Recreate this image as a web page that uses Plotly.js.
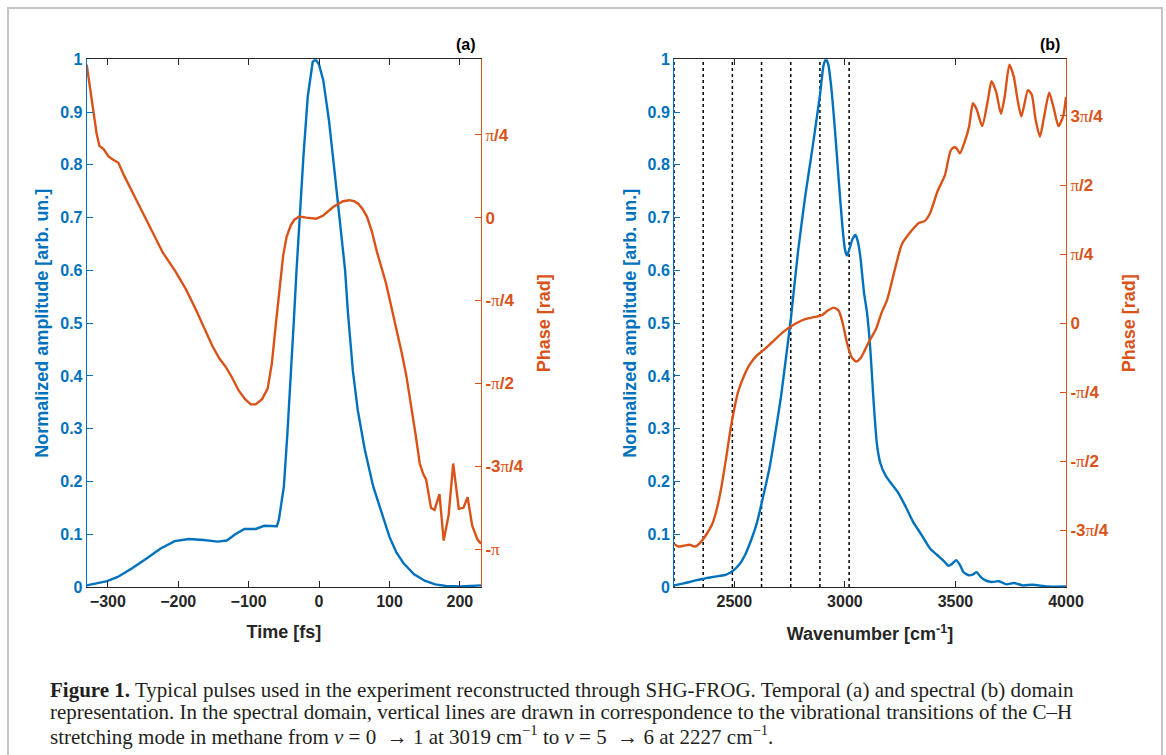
<!DOCTYPE html>
<html>
<head>
<meta charset="utf-8">
<script src="https://cdn.plot.ly/plotly-3.0.1.min.js"></script>
<style>
  html, body { margin: 0; padding: 0; background: #fff; }
  #chart { width: 1166px; height: 755px; }
</style>
</head>
<body>
<div id="chart"></div>
<script>
// ---------------- DATA ----------------
// Panel (a): temporal domain
const timeAmp_t = [-330,-317,-301,-286,-266,-245,-225,-205,-185,-164,-144,-131,-119,-106,-90,-78,-65,-60,-57,-50,-45,-40,-36,-32,-28,-22,-16,-9,-5,0,6,14,21,29,37,41,48,55,65,77,90,100,110,120,135,150,165,180,200,215,230];
const timeAmp   = [0.003,0.006,0.011,0.019,0.035,0.054,0.073,0.087,0.091,0.089,0.086,0.088,0.100,0.110,0.110,0.116,0.116,0.115,0.128,0.19,0.29,0.42,0.50,0.60,0.69,0.82,0.93,0.995,1.0,0.99,0.96,0.885,0.80,0.70,0.60,0.52,0.41,0.335,0.26,0.19,0.135,0.095,0.065,0.045,0.024,0.012,0.005,0.002,0.001,0.002,0.003];

const timePhase_t = [-330,-325,-320,-316,-312,-306,-299,-293,-285,-277,-265,-255,-239,-222,-204,-189,-175,-164,-152,-142,-133,-124,-114,-105,-97,-90,-81,-73,-67,-62,-57,-55,-51,-46,-40,-35,-28,-18,-4,6,20,34,43,50,56,62,68,75,82,95,105,112,118,124,131,137,143,148,152,156,159,164,171,177,184,190.5,198.5,205,211,217.5,225,230];
const timePhase   = [1.45,1.20,0.98,0.80,0.68,0.65,0.58,0.55,0.52,0.40,0.24,0.11,-0.11,-0.33,-0.51,-0.68,-0.87,-1.03,-1.21,-1.33,-1.41,-1.51,-1.64,-1.72,-1.77,-1.77,-1.72,-1.62,-1.38,-1.05,-0.72,-0.60,-0.36,-0.18,-0.07,-0.02,0.01,0.00,-0.01,0.02,0.10,0.155,0.165,0.155,0.13,0.08,0.01,-0.13,-0.32,-0.62,-0.92,-1.10,-1.30,-1.50,-1.78,-2.05,-2.33,-2.43,-2.48,-2.62,-2.75,-2.77,-2.62,-3.06,-2.82,-2.33,-2.76,-2.75,-2.65,-2.92,-3.05,-3.09];

// Panel (b): spectral domain
const specAmp_w = [2227,2260,2298,2330,2365,2400,2433,2460,2480,2500,2525,2551,2576,2601,2630,2660,2685,2711,2736,2756,2787,2820,2854,2888,2904,2915,2925,2938,2955,2972,2989,3000,3009,3020,3035,3048,3060,3070,3087,3100,3115,3130,3145,3160,3183,3208,3242,3275,3309,3343,3385,3427,3450,3469,3485,3503,3520,3537,3562,3580,3596,3612,3629,3663,3697,3731,3764,3806,3848,3916,4000];
const specAmp   = [0.003,0.006,0.0095,0.013,0.016,0.019,0.021,0.023,0.027,0.033,0.044,0.063,0.089,0.12,0.171,0.228,0.291,0.361,0.443,0.51,0.632,0.739,0.834,0.935,0.99,1.0,0.99,0.948,0.866,0.771,0.682,0.64,0.628,0.64,0.66,0.667,0.652,0.625,0.556,0.52,0.45,0.35,0.27,0.235,0.212,0.197,0.178,0.152,0.123,0.101,0.073,0.057,0.048,0.040,0.044,0.051,0.042,0.028,0.022,0.024,0.028,0.020,0.014,0.0095,0.011,0.005,0.0076,0.003,0.0044,0.001,0.001];

const specPhase_w = [2227,2247,2272,2298,2323,2348,2374,2399,2419,2441,2463,2483,2500,2517,2542,2567,2601,2630,2669,2719,2761,2820,2871,2896,2921,2950,2972,2989,3009,3031,3051,3073,3107,3140,3166,3191,3225,3258,3301,3334,3360,3385,3419,3452,3478,3494,3505,3520,3540,3562,3579,3596,3621,3647,3663,3684,3706,3723,3744,3764,3781,3798,3828,3845,3862,3882,3899,3924,3946,3966,3987,4000];
const specPhase   = [-2.51,-2.54,-2.53,-2.52,-2.54,-2.49,-2.40,-2.29,-2.13,-1.87,-1.53,-1.20,-0.97,-0.78,-0.61,-0.48,-0.37,-0.31,-0.22,-0.105,-0.03,0.045,0.075,0.09,0.14,0.177,0.14,0.01,-0.22,-0.39,-0.436,-0.39,-0.22,-0.07,0.12,0.265,0.60,0.90,1.05,1.14,1.16,1.25,1.50,1.68,1.96,2.00,1.99,1.93,2.05,2.24,2.50,2.43,2.24,2.54,2.75,2.63,2.38,2.58,2.94,2.80,2.54,2.35,2.65,2.60,2.32,2.12,2.32,2.62,2.43,2.24,2.35,2.57];

// C–H stretching transitions (cm^-1), from nu=0->1 down
const transitions = [3019, 2887, 2755, 2623, 2491, 2359, 2227];

// Tick labels
const ampTicks = [0,0.1,0.2,0.3,0.4,0.5,0.6,0.7,0.8,0.9,1];
const ampTickText = ['0','0.1','0.2','0.3','0.4','0.5','0.6','0.7','0.8','0.9','1'];
const PI_SPAN = '<span style="font-family:\'Liberation Serif\',serif;font-weight:normal">π</span>';
const phaseTickMulA = [-1,-0.75,-0.5,-0.25,0,0.25];
const phaseTickTextA = ['-'+PI_SPAN,'-3'+PI_SPAN+'/4','-'+PI_SPAN+'/2','-'+PI_SPAN+'/4','0',PI_SPAN+'/4'];
const phaseTickMulB = [-0.75,-0.5,-0.25,0,0.25,0.5,0.75];
const phaseTickTextB = ['-3'+PI_SPAN+'/4','-'+PI_SPAN+'/2','-'+PI_SPAN+'/4','0',PI_SPAN+'/4',PI_SPAN+'/2','3'+PI_SPAN+'/4'];
const timeTicks = [-300,-200,-100,0,100,200];
const waveTicks = [2500,3000,3500,4000];

const captionLines = [
  '<b>Figure 1.</b> Typical pulses used in the experiment reconstructed through SHG-FROG. Temporal (a) and spectral (b) domain',
  'representation. In the spectral domain, vertical lines are drawn in correspondence to the vibrational transitions of the C–H',
  'stretching mode in methane from <i>ν</i> = 0  → 1 at 3019 cm<sup>−1</sup> to <i>ν</i> = 5  → 6 at 2227 cm<sup>−1</sup>.'
];

// ---------------- STYLE ----------------
const BLUE = '#0072BD', ORANGE = '#D95319', AX = '#262626';
const W = 1166, H = 755;
const FONT = 'Liberation Sans, Arial, sans-serif';
const px = v => v / W;
const py = v => (H - v) / H;
const yDom = [py(587), py(59.3)];

const vx = [], vy = [];
transitions.forEach(w => { vx.push(w, w, null); vy.push(0, 1, null); });

const traces = [
  {x: timeAmp_t, y: timeAmp, xaxis: 'x', yaxis: 'y', mode: 'lines', line: {color: BLUE, width: 2.4}, hoverinfo: 'skip'},
  {x: timePhase_t, y: timePhase, xaxis: 'x', yaxis: 'y2', mode: 'lines', line: {color: ORANGE, width: 2.4}, hoverinfo: 'skip'},
  {x: vx, y: vy, xaxis: 'x2', yaxis: 'y3', mode: 'lines', line: {color: '#000', width: 1.5, dash: 'dot'}, hoverinfo: 'skip'},
  {x: specAmp_w, y: specAmp, xaxis: 'x2', yaxis: 'y3', mode: 'lines', line: {color: BLUE, width: 2.4, shape: 'spline', smoothing: 0.6}, hoverinfo: 'skip'},
  {x: specPhase_w, y: specPhase, xaxis: 'x2', yaxis: 'y4', mode: 'lines', line: {color: ORANGE, width: 2.4, shape: 'spline', smoothing: 0.6}, hoverinfo: 'skip'}
];

const tickFont = (c, s) => ({family: FONT, size: s || 16, color: c, weight: 'bold'});
const titleFont = c => ({family: FONT, size: 18, color: c, weight: 'bold'});

function xAx(domain, range, ticks, title, anchor, standoff) {
  return {
    domain, range, anchor, tickvals: ticks, ticks: 'inside', ticklen: 6, tickcolor: AX,
    showline: true, linecolor: AX, linewidth: 1, mirror: 'ticks', showgrid: false, zeroline: false,
    tickfont: tickFont(AX), title: {text: title, font: titleFont(AX), standoff}
  };
}
function yAmp(anchor) {
  return {
    domain: yDom, range: [0, 1], anchor, tickvals: ampTicks, ticktext: ampTickText,
    ticks: 'inside', ticklen: 6, tickcolor: BLUE, showline: true, linecolor: BLUE, linewidth: 1,
    showgrid: false, zeroline: false, tickfont: tickFont(BLUE),
    title: {text: 'Normalized amplitude [arb. un.]', font: titleFont(BLUE), standoff: 6}
  };
}
function yPhase(anchor, over, range, mul, txt) {
  return {
    domain: yDom, range, anchor, overlaying: over, side: 'right',
    tickvals: mul.map(m => m * Math.PI), ticktext: txt,
    ticks: 'inside', ticklen: 6, tickcolor: ORANGE, showline: true, linecolor: ORANGE, linewidth: 1,
    showgrid: false, zeroline: false, tickfont: tickFont(ORANGE, 17),
    title: {text: 'Phase [rad]', font: titleFont(ORANGE), standoff: 14}
  };
}

const annotations = [
  {text: '<b>(a)</b>', xref: 'paper', yref: 'paper', x: px(478), y: py(44), xanchor: 'right', yanchor: 'middle', showarrow: false, font: {family: FONT, size: 16, color: '#000'}},
  {text: '<b>(b)</b>', xref: 'paper', yref: 'paper', x: px(1062), y: py(44), xanchor: 'right', yanchor: 'middle', showarrow: false, font: {family: FONT, size: 16, color: '#000'}}
];
const capY = [690, 712, 735];
captionLines.forEach((t, i) => annotations.push({
  text: t, xref: 'paper', yref: 'paper', x: px(48), y: py(capY[i]), xanchor: 'left', yanchor: 'middle',
  showarrow: false, font: {family: 'Liberation Serif, Times New Roman, serif', size: 21, color: '#231f20'}
}));

const layout = {
  width: W, height: H, margin: {l: 0, r: 0, t: 0, b: 0},
  paper_bgcolor: '#fff', plot_bgcolor: '#fff', showlegend: false,
  xaxis: xAx([px(86.7), px(481)], [-330, 230], timeTicks, 'Time [fs]', 'y', 16),
  yaxis: yAmp('x'),
  yaxis2: yPhase('x', 'y', [-3.5, 1.5], phaseTickMulA, phaseTickTextA),
  xaxis2: xAx([px(674), px(1066)], [2227, 4000], waveTicks, 'Wavenumber [cm<sup>-1</sup>]', 'y3', 18),
  yaxis3: yAmp('x2'),
  yaxis4: yPhase('x2', 'y3', [-3, 3], phaseTickMulB, phaseTickTextB),
  annotations,
  shapes: [
    {type: 'rect', xref: 'paper', yref: 'paper', x0: px(8), x1: px(1162), y0: -0.1, y1: py(8), line: {color: '#c4c4c4', width: 2}, fillcolor: 'rgba(0,0,0,0)', layer: 'below'}
  ]
};

Plotly.newPlot('chart', traces, layout, {displayModeBar: false, staticPlot: true});
</script>
</body>
</html>
